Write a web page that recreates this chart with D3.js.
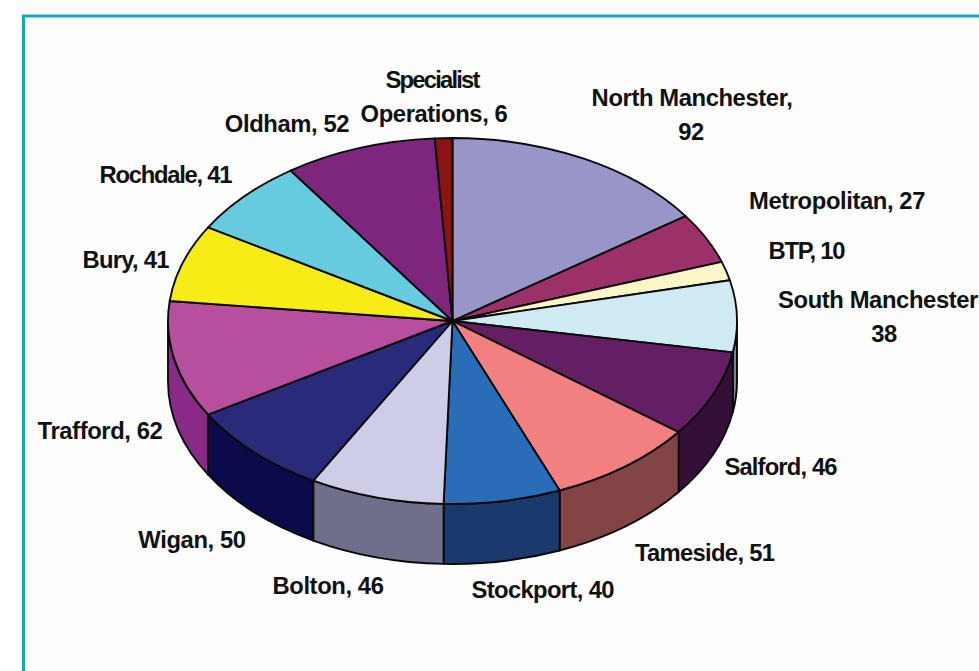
<!DOCTYPE html>
<html>
<head>
<meta charset="utf-8">
<script src="https://cdn.jsdelivr.net/npm/d3@7"></script>
<style>
html,body{margin:0;padding:0;background:#fff;overflow:hidden}
svg{display:block}
text{font-family:"Liberation Sans",Arial,sans-serif;font-weight:700;font-size:23.8px;letter-spacing:-.4px;fill:#111;text-anchor:middle}
</style>
</head>
<body>
<svg id="c" width="979" height="671"></svg>
<script>
const categories=["North Manchester","Metropolitan","BTP","South Manchester","Salford","Tameside","Stockport","Bolton","Wigan","Trafford","Bury","Rochdale","Oldham","Specialist Operations"];
const values=[92,27,10,38,46,51,40,46,50,62,41,41,52,6];
const topColors=["#9896c8","#9c3068","#fbf6c8","#cfeaf3","#641e64","#f38080","#2a6cb8","#cdcde8","#2a2a7a","#b84f9e","#f7ec16","#66cbdf","#7e267e","#8a1414"];
const sideColors=["#4c4b64","#4e1834","#7d7b64","#6d8a90","#341038","#824444","#1a3a6e","#6f6f8c","#0b0b4c","#8a2a88","#7b760b","#336570","#3f133f","#450a0a"];
// label lines: [centre x, baseline y, text, optional fitted width]
const labelLines=[
 [692,106,"North Manchester,"],[691,140,"92"],
 [837,209,"Metropolitan, 27"],
 [807,259,"BTP, 10",77],
 [878,308,"South Manchester"],[884,342,"38"],
 [781,475,"Salford, 46",113],
 [705,561,"Tameside, 51",140],
 [543,598,"Stockport, 40",143],
 [328,594,"Bolton, 46"],
 [192,548,"Wigan, 50"],
 [100,439,"Trafford, 62"],
 [126,268,"Bury, 41",87],
 [166,183,"Rochdale, 41",133],
 [287,132,"Oldham, 52"],
 [433,88,"Specialist",95],[434,122,"Operations, 6"]
];

const svg=d3.select("#c");
const cx=452.5,cy=321,rx=284.5,ry=183,depth=60;
const sx=d3.scaleLinear().domain([-1,1]).range([cx-rx,cx+rx]);
const sy=d3.scaleLinear().domain([-1,1]).range([cy-ry,cy+ry]);
const px=a=>sx(Math.sin(a)), py=a=>sy(-Math.cos(a));

// frame
svg.append("rect").attr("x",25).attr("y",18).attr("width",954).attr("height",653).attr("fill","#fdfdfd");
svg.append("path").attr("d","M23.5,671V16H979").attr("fill","none").attr("stroke","#12a9ba").attr("stroke-width",3);

const pie=d3.pie().sort(null).value(d=>d)(values);
const arcSeg=(a0,a1,dy,sweep)=>`A${rx},${ry} 0 ${Math.abs(a1-a0)>Math.PI?1:0} ${sweep} ${px(a1)},${py(a1)+dy}`;

// sides: only the part of each slice that faces the viewer
const lo=Math.PI/2,hi=3*Math.PI/2;
svg.append("g").selectAll("path")
 .data(pie.filter(d=>d.endAngle>lo&&d.startAngle<hi))
 .join("path")
 .attr("d",d=>{
   const a0=Math.max(d.startAngle,lo),a1=Math.min(d.endAngle,hi);
   return `M${px(a0)},${py(a0)}`+arcSeg(a0,a1,0,1)+`L${px(a1)},${py(a1)+depth}`+arcSeg(a1,a0,depth,0)+"Z";
 })
 .attr("fill",d=>sideColors[d.index]).attr("stroke","#0a0a0a").attr("stroke-width",1.9).attr("stroke-linejoin","round");

// top face
svg.append("g").selectAll("path")
 .data(pie)
 .join("path")
 .attr("d",d=>`M${cx},${cy}L${px(d.startAngle)},${py(d.startAngle)}`+arcSeg(d.startAngle,d.endAngle,0,1)+"Z")
 .attr("fill",d=>topColors[d.index]).attr("stroke","#0a0a0a").attr("stroke-width",1.9).attr("stroke-linejoin","round");

svg.append("g").selectAll("text")
 .data(labelLines)
 .join("text")
 .attr("x",d=>d[0]).attr("y",d=>d[1])
 .each(function(d){ if(d[3]) d3.select(this).attr("textLength",d[3]).attr("lengthAdjust","spacing").style("letter-spacing","0"); })
 .text(d=>d[2]);
</script>
</body>
</html>
